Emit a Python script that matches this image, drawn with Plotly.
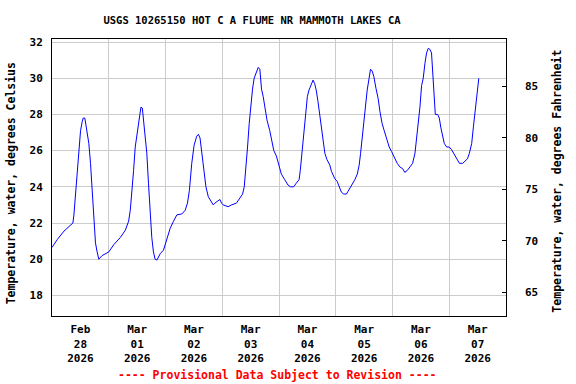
import pandas as pd
import plotly.graph_objects as go

# Hours since 2026-02-28 00:00 and water temperature (deg C)
hours = [0, 2.25, 5.05, 7.86, 8.84, 9.26, 9.96, 10.67, 11.37, 12.07, 12.77, 13.19, 13.89,
         14.6, 15.58, 16.28, 16.98, 17.68, 18.39, 19.09, 19.79, 21.19, 24.0, 26.1, 28.9,
         31.0, 32.4, 33.1, 33.8, 34.5, 35.2, 36.2, 37.05, 37.6, 38.2, 38.7, 39.4, 40.1,
         40.8, 41.5, 42.2, 42.9, 43.6, 44.35, 45.05, 45.75, 47.15, 48.55, 49.95, 51.4,
         52.8, 54.9, 56.3, 57.3, 58.1, 59.1, 60.1, 61.2, 61.9, 62.6, 63.3, 64.3, 65.1,
         66.1, 67.1, 68.2, 68.9, 69.9, 71.0, 71.7, 72.4, 74.5, 75.9, 78.0, 79.4, 80.6,
         81.3, 82.0, 82.7, 83.4, 84.1, 84.8, 85.5, 86.5, 87.2, 87.9, 88.6, 89.3, 90.0,
         90.9, 92.1, 92.8, 93.8, 94.9,
         96.0, 97.0, 98.4, 99.8, 100.8, 102.2, 103.3, 104.5, 105.0, 105.7, 106.6, 107.3,
         108.0, 108.7, 109.7, 110.4, 111.1, 111.8, 112.5, 113.2, 113.9, 114.6, 115.4,
         116.3, 117.5, 118.2, 119.6, 120.6, 121.7, 122.4, 123.4, 124.5, 125.2, 126.4,
         128.1, 129.1, 129.9, 130.5, 131.2, 131.9, 132.6, 133.3, 134.1, 134.7, 135.4,
         136.1, 137.0, 137.9, 138.7, 139.6, 140.5, 141.5, 142.6, 143.6, 144.6, 146.0,
         147.1, 148.3, 149.2, 150.2, 151.4, 152.5, 153.5, 154.2, 154.9, 155.6, 156.3,
         157.0, 157.7, 158.4, 159.1, 159.8, 160.5, 161.0, 161.5, 162.1, 163.1, 163.8,
         164.4, 165.2, 165.9, 166.9, 168.0, 169.0, 170.0, 171.1, 172.3, 173.7, 174.7,
         175.7, 176.5, 177.5, 178.2, 178.9, 179.7, 180.5]
temp_c = [20.65, 21.09, 21.55, 21.88, 22.0, 22.44, 23.6, 24.9, 26.2, 27.1, 27.6, 27.8, 27.8,
          27.1, 26.4, 25.3, 24.0, 22.3, 20.9, 20.4, 20.0, 20.2, 20.4, 20.8, 21.2,
          21.6, 22.1, 22.7, 23.6, 24.9, 26.2, 27.1, 27.9, 28.4, 28.35, 27.7, 26.8, 25.85,
          24.2, 22.5, 21.2, 20.4, 20.0, 19.95, 20.1, 20.3, 20.5, 21.05, 21.7, 22.1,
          22.45, 22.5, 22.7, 23.1, 23.8, 25.3, 26.3, 26.8, 26.9, 26.7, 26.0, 24.9, 24.0,
          23.45, 23.2, 23.0, 23.1, 23.2, 23.3, 23.1, 23.0, 22.9, 23.0, 23.1, 23.4, 23.6,
          24.0, 24.9, 26.2, 27.5, 28.7, 29.4, 30.0, 30.4, 30.6, 30.5, 29.4, 29.0, 28.4,
          27.7, 27.1, 26.6, 26.0, 25.7,
          25.2, 24.7, 24.4, 24.1, 24.0, 24.0, 24.2, 24.4, 24.9, 25.85, 26.95, 28.05,
          29.0, 29.35, 29.7, 29.9, 29.7, 29.3, 28.7, 28.05, 27.4, 26.6, 25.85,
          25.5, 25.2, 24.85, 24.45, 24.3, 23.9, 23.7, 23.6, 23.6, 23.75, 24.0,
          24.4, 24.7, 25.2, 25.85, 26.8, 27.8, 28.6, 29.35, 30.0, 30.5, 30.4,
          30.1, 29.45, 28.9, 28.15, 27.5, 27.1, 26.7, 26.2, 25.95, 25.65, 25.3,
          25.1, 25.0, 24.8, 24.9, 25.1, 25.3, 25.85, 26.6, 27.5, 28.4, 29.6,
          30.0, 30.8, 31.4, 31.65, 31.6, 31.4, 30.5, 29.2, 28.0, 28.0, 27.8,
          27.3, 26.8, 26.4, 26.2, 26.2, 26.05, 25.8, 25.55, 25.3, 25.3, 25.4,
          25.55, 25.85, 26.4, 27.3, 28.25, 29.15, 30.0]

start = pd.Timestamp("2026-02-28 00:00")
times = [start + pd.Timedelta(hours=h) for h in hours]
temp_f = [c * 1.8 + 32 for c in temp_c]

title_text = "USGS 10265150 HOT C A FLUME NR MAMMOTH LAKES CA"
left_title = "Temperature, water, degrees Celsius"
right_title = "Temperature, water, degrees Fahrenheit"
footer = "---- Provisional Data Subject to Revision ----"
c_ticks = [18, 20, 22, 24, 26, 28, 30, 32]
f_ticks = [65, 70, 75, 80, 85]

FONT = "DejaVu Sans Mono"

fig = go.Figure()
fig.add_trace(go.Scatter(x=times, y=temp_c, mode="lines",
                         line=dict(color="#0000FF", width=1), showlegend=False))
fig.add_trace(go.Scatter(x=times, y=temp_f, mode="lines", yaxis="y2",
                         line=dict(color="rgba(0,0,0,0)", width=0), showlegend=False,
                         hoverinfo="skip"))

fig.update_layout(
    width=576, height=384,
    margin=dict(l=51.7, r=69.7, t=39.3, b=68.3, autoexpand=False),
    paper_bgcolor="white", plot_bgcolor="white",
    title=dict(text=title_text, x=252 / 576, xanchor="center", xref="container",
               y=1 - 20 / 384, yanchor="middle", yref="container",
               font=dict(family=FONT, size=10.5, color="black", weight="bold")),
    xaxis=dict(type="date", range=["2026-02-28 00:00", "2026-03-08 00:00"],
               dtick=86400000, tick0="2026-02-28", ticklabelmode="period",
               tickformat="%b<br>%d<br>%Y", showgrid=True, gridcolor="#CCCCCC",
               gridwidth=1, ticks="", showline=True, linecolor="black", linewidth=1,
               mirror=True, zeroline=False, ticklabelstandoff=3, automargin=False,
               tickfont=dict(family=FONT, size=11, color="black", weight="bold")),
    yaxis=dict(range=[16.86, 32.17], tickvals=c_ticks, showgrid=True,
               gridcolor="#CCCCCC", gridwidth=1, ticks="", showline=True,
               linecolor="black", linewidth=1, mirror=True, zeroline=False,
               ticklabelstandoff=6, automargin=False,
               tickfont=dict(family=FONT, size=11, color="black", weight="bold")),
    yaxis2=dict(range=[62.69, 89.59], tickvals=f_ticks, overlaying="y", side="right",
                showgrid=False, zeroline=False, ticks="inside", ticklen=4,
                tickcolor="black", showline=False, ticklabelstandoff=18,
                automargin=False,
                tickfont=dict(family=FONT, size=11, color="black", weight="bold")),
    annotations=[
        dict(text=left_title, xref="paper", yref="paper", x=(11 - 51.7) / 454.6,
             y=(315.7 - 183) / 276.4, xanchor="center", yanchor="middle",
             textangle=-90, showarrow=False,
             font=dict(family=FONT, size=11.5, color="black", weight="bold")),
        dict(text=right_title, xref="paper", yref="paper", x=(557 - 51.7) / 454.6,
             y=(315.7 - 181) / 276.4, xanchor="center", yanchor="middle",
             textangle=-90, showarrow=False,
             font=dict(family=FONT, size=11.5, color="black", weight="bold")),
        dict(text=footer, xref="paper", yref="paper", x=(277.5 - 51.7) / 454.6,
             y=(315.7 - 375) / 276.4, xanchor="center", yanchor="middle",
             showarrow=False,
             font=dict(family=FONT, size=11.5, color="#FF0000", weight="bold")),
    ],
)

fig.write_html("out.html", config={"displayModeBar": False},
               post_script="document.body.style.margin='0';document.body.style.padding='0';")
